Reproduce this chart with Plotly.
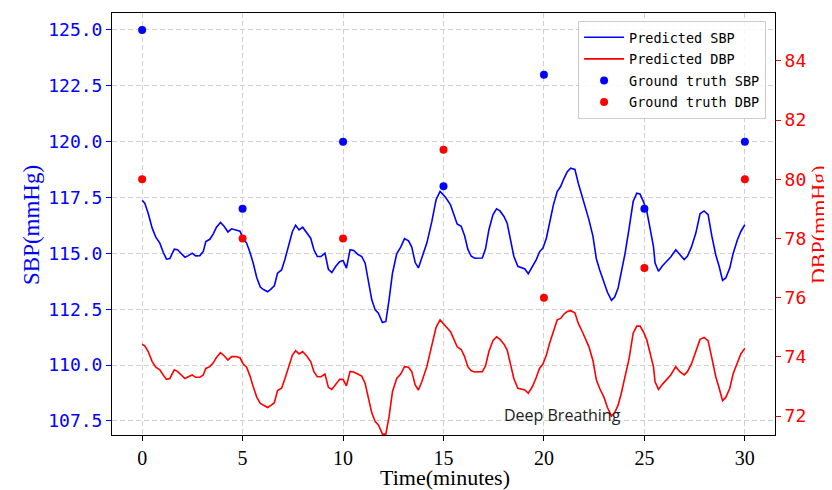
import plotly.graph_objects as go

# Predicted SBP (left axis)
t_sbp = [0, 0.13, 0.3, 0.5, 0.68, 0.88, 1.05, 1.21, 1.38, 1.6, 1.76, 1.96, 2.13, 2.3, 2.49, 2.66, 2.87,
         3.04, 3.17, 3.37, 3.54, 3.7, 3.9, 4.09, 4.27, 4.45, 4.67, 4.87, 5.03, 5.2, 5.37, 5.53, 5.7,
         5.88, 6.06, 6.25, 6.41, 6.58, 6.74, 6.94, 7.11, 7.31, 7.48, 7.64, 7.81, 7.99, 8.19, 8.39,
         8.55, 8.72, 8.9, 9.1, 9.27, 9.44, 9.63, 9.83, 10.0, 10.17, 10.35, 10.53, 10.73, 10.93, 11.1,
         11.26, 11.43, 11.6, 11.76, 11.96, 12.13, 12.29, 12.46, 12.67, 12.87, 13.06, 13.26, 13.42,
         13.59, 13.75, 13.92, 14.17, 14.42, 14.63, 14.83, 15.1, 15.35, 15.52, 15.68, 15.88, 16.05,
         16.21, 16.38, 16.56, 16.76, 16.93, 17.09, 17.26, 17.46, 17.64, 17.81, 18.01, 18.17, 18.34,
         18.5, 18.7, 18.89, 19.05, 19.22, 19.42, 19.62, 19.78, 19.95, 20.12, 20.28, 20.47, 20.66,
         20.83, 21.0, 21.16, 21.33, 21.54, 21.71, 21.91, 22.08, 22.24, 22.44, 22.61, 22.77, 22.99,
         23.16, 23.36, 23.52, 23.69, 23.85, 24.04, 24.24, 24.44, 24.62, 24.78, 24.95, 25.12, 25.28,
         25.45, 25.53, 25.7, 25.9, 26.1, 26.31, 26.56, 26.76, 26.98, 27.14, 27.34, 27.56, 27.77,
         27.97, 28.17, 28.36, 28.55, 28.72, 28.89, 29.05, 29.25, 29.42, 29.63, 29.8, 30.0]
sbp_pred = [117.37, 117.25, 116.8, 116.13, 115.73, 115.46, 115.05, 114.74, 114.77, 115.19, 115.16,
            114.98, 114.83, 114.9, 115.01, 114.89, 114.9, 115.08, 115.53, 115.63, 115.87, 116.17,
            116.38, 116.2, 115.96, 116.1, 116.05, 115.99, 115.65, 115.46, 115.04, 114.56, 113.93,
            113.49, 113.37, 113.28, 113.4, 113.55, 114.11, 114.26, 114.74, 115.38, 115.98, 116.26,
            116.05, 116.17, 115.93, 115.68, 115.16, 114.86, 114.86, 115.01, 114.29, 114.14, 114.41,
            114.63, 114.68, 114.34, 115.16, 115.13, 114.96, 114.86, 114.56, 113.81, 112.92, 112.47,
            112.32, 111.9, 111.95, 112.92, 114.11, 114.98, 115.28, 115.66, 115.56, 115.28, 114.59,
            114.35, 114.78, 115.46, 116.43, 117.4, 117.77, 117.51, 117.17, 116.73, 116.32, 116.21,
            115.79, 115.19, 114.87, 114.78, 114.78, 114.79, 115.19, 116.06, 116.73, 116.99, 116.9,
            116.65, 116.35, 115.61, 114.87, 114.42, 114.36, 114.3, 114.09, 114.42, 114.72, 115.07,
            115.24, 115.68, 116.35, 117.17, 117.77, 117.99, 118.36, 118.66, 118.81, 118.76, 118.14,
            117.54, 117.02, 116.5, 115.76, 114.75, 114.27, 113.68, 113.26, 112.9, 113.05, 113.45,
            114.12, 115.01, 116.13, 117.32, 117.69, 117.66, 117.32, 116.88, 116.13, 115.31, 114.57,
            114.2, 114.45, 114.64, 114.84, 115.16, 114.94, 114.72, 114.87, 115.28, 115.91, 116.77,
            116.9, 116.73, 115.76, 114.94, 114.42, 113.79, 113.9, 114.35, 115.01, 115.61, 115.98,
            116.28]

# Predicted DBP (right axis), same time stamps
dbp_pred = [74.43, 74.37, 74.18, 73.84, 73.65, 73.56, 73.39, 73.24, 73.27, 73.56, 73.51, 73.39, 73.27,
            73.33, 73.39, 73.31, 73.31, 73.39, 73.61, 73.67, 73.8, 73.98, 74.14, 74.03, 73.89, 74.01,
            74.01, 73.97, 73.76, 73.65, 73.35, 72.99, 72.65, 72.43, 72.36, 72.29, 72.36, 72.45, 72.86,
            72.94, 73.27, 73.73, 74.06, 74.21, 74.1, 74.18, 74.03, 73.84, 73.5, 73.33, 73.33, 73.42,
            72.97, 72.9, 73.08, 73.24, 73.24, 73.02, 73.51, 73.49, 73.42, 73.35, 73.1, 72.65, 72.11,
            71.81, 71.7, 71.39, 71.39, 71.98, 72.82, 73.27, 73.42, 73.67, 73.65, 73.5, 73.05, 72.88,
            73.16, 73.67, 74.34, 75.0, 75.25, 75.04, 74.85, 74.59, 74.34, 74.25, 74.01, 73.67, 73.53,
            73.49, 73.49, 73.5, 73.69, 74.18, 74.55, 74.68, 74.59, 74.43, 74.23, 73.73, 73.27, 72.94,
            72.9, 72.88, 72.77, 72.99, 73.31, 73.61, 73.76, 74.06, 74.46, 74.89, 75.25, 75.3, 75.45,
            75.53, 75.56, 75.49, 75.13, 74.85, 74.59, 74.34, 73.87, 73.22, 72.94, 72.63, 72.29, 72.0,
            72.11, 72.37, 72.77, 73.31, 73.95, 74.8, 75.04, 75.04, 74.85, 74.57, 74.12, 73.67, 73.16,
            72.9, 73.08, 73.24, 73.39, 73.67, 73.5, 73.39, 73.5, 73.76, 74.18, 74.59, 74.66, 74.55,
            73.95, 73.33, 72.94, 72.52, 72.63, 72.94, 73.44, 73.84, 74.1, 74.29]

# Ground truth measurements
t_gt = [0, 5, 10, 15, 20, 25, 30]
sbp_gt = [125, 117, 120, 118, 123, 117, 120]
dbp_gt = [80, 78, 78, 81, 76, 77, 80]

x_ticks = [0, 5, 10, 15, 20, 25, 30]
sbp_ticks = [107.5, 110.0, 112.5, 115.0, 117.5, 120.0, 122.5, 125.0]
dbp_ticks = [72, 74, 76, 78, 80, 82, 84]

BLUE = "#0000ff"
RED = "#ff0000"
SERIF = "Liberation Serif"
MONO = "DejaVu Sans Mono"

fig = go.Figure()
fig.add_trace(go.Scatter(x=t_sbp, y=sbp_pred, mode="lines", name="Predicted SBP",
                         line=dict(color=BLUE, width=1.6), legendgroup="a"))
fig.add_trace(go.Scatter(x=t_sbp, y=dbp_pred, mode="lines", name="Predicted DBP",
                         line=dict(color=RED, width=1.6), yaxis="y2", legendgroup="b"))
fig.add_trace(go.Scatter(x=t_gt, y=sbp_gt, mode="markers", name="Ground truth SBP",
                         marker=dict(color=BLUE, size=8), legendgroup="c"))
fig.add_trace(go.Scatter(x=t_gt, y=dbp_gt, mode="markers", name="Ground truth DBP",
                         marker=dict(color=RED, size=8), yaxis="y2", legendgroup="d"))

fig.add_annotation(x=20.9, y=107.77, xref="x", yref="y", text="Deep Breathing", showarrow=False,
                   font=dict(family="Open Sans", size=16, color="#222222"),
                   xanchor="center", yanchor="middle")

# Axis titles as annotations for exact placement
fig.add_annotation(x=-0.1222, y=0.4976, xref="paper", yref="paper", text="SBP(mmHg)",
                   textangle=-90, showarrow=False, xanchor="center", yanchor="middle",
                   font=dict(family=SERIF, size=23, color=BLUE))
fig.add_annotation(x=1.0649, y=0.4976, xref="paper", yref="paper", text="DBP(mmHg)",
                   textangle=-90, showarrow=False, xanchor="center", yanchor="middle",
                   font=dict(family=SERIF, size=22, color=RED))
fig.add_annotation(x=0.5023, y=-0.1, xref="paper", yref="paper", text="Time(minutes)",
                   showarrow=False, xanchor="center", yanchor="middle",
                   font=dict(family=SERIF, size=22, color="black"))

# page body has an 8px margin, so the figure is sized to fit the remaining window
fig.update_layout(
    width=824, height=482,
    margin=dict(l=104, r=57, t=5, b=55, autoexpand=False),
    paper_bgcolor="white", plot_bgcolor="white",
    showlegend=True,
    legend=dict(x=0.703, y=0.981, xanchor="left", yanchor="top",
                bgcolor="rgba(255,255,255,0.85)", bordercolor="#cccccc", borderwidth=1,
                font=dict(family=MONO, size=13.5, color="black"),
                traceorder="grouped", tracegroupgap=1, itemwidth=40),
    xaxis=dict(range=[-1.5, 31.5], tickvals=x_ticks, ticktext=[str(v) for v in x_ticks],
               showline=True, linecolor="black", linewidth=1, mirror=True,
               ticks="outside", ticklen=5, tickcolor="black", automargin=False,
               showgrid=True, gridcolor="#d0d0d0", griddash="5px,3px", gridwidth=1,
               zeroline=False,
               tickfont=dict(family=SERIF, size=20, color="black")),
    yaxis=dict(range=[106.87, 125.76], tickvals=sbp_ticks, ticktext=[f"{v:.1f}" for v in sbp_ticks],
               showline=True, linecolor="black", linewidth=1, automargin=False,
               ticks="outside", ticklen=5, tickcolor=BLUE,
               showgrid=True, gridcolor="#d0d0d0", griddash="5px,3px", gridwidth=1,
               zeroline=False,
               tickfont=dict(family=MONO, size=18, color=BLUE)),
    yaxis2=dict(range=[71.36, 85.62], tickvals=dbp_ticks, ticktext=[str(v) for v in dbp_ticks],
                overlaying="y", side="right", automargin=False,
                showline=True, linecolor="black", linewidth=1,
                ticks="outside", ticklen=5, tickcolor=RED,
                showgrid=False, zeroline=False,
                tickfont=dict(family=MONO, size=18, color=RED)),
)

fig.write_html("out.html")
